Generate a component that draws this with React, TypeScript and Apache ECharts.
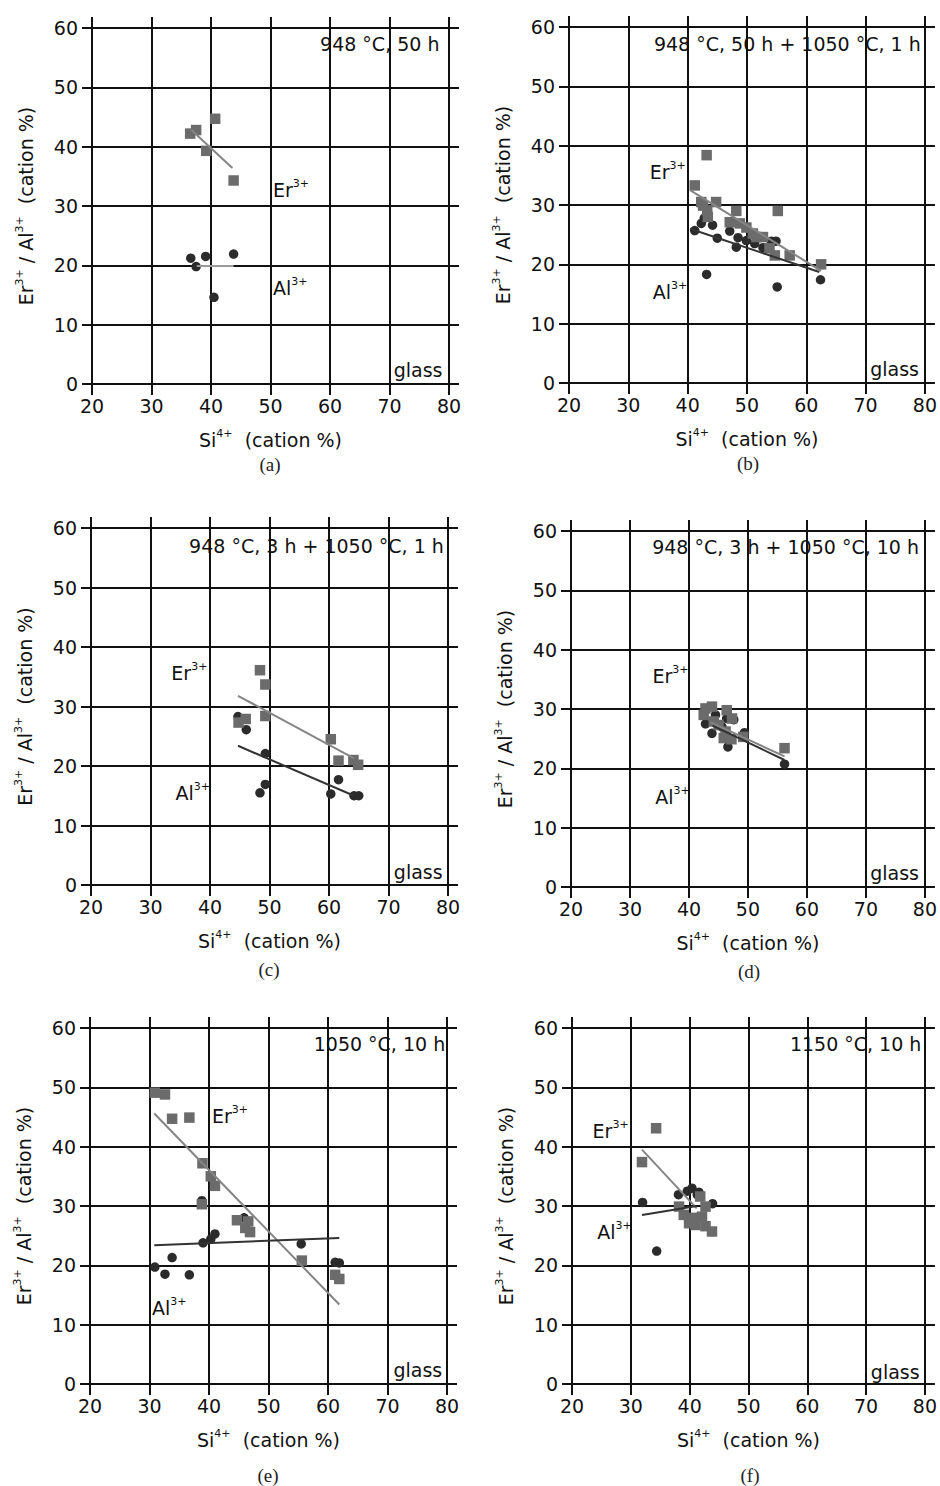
import React, { useEffect, useRef } from "react";
import * as echarts from "echarts";

// ---------- data ----------
const panelLetters = ["(a)", "(b)", "(c)", "(d)", "(e)", "(f)"];
const titles = [
  "948 °C, 50 h",
  "948 °C, 50 h + 1050 °C, 1 h",
  "948 °C, 3 h + 1050 °C, 1 h",
  "948 °C, 3 h + 1050 °C, 10 h",
  "1050 °C, 10 h",
  "1150 °C, 10 h",
];

// (a) 948 °C, 50 h
const erA = [[36.5, 42.2], [37.5, 42.8], [40.7, 44.7], [39.2, 39.3], [43.8, 34.3]];
const alA = [[36.6, 21.2], [37.5, 19.8], [39.1, 21.5], [43.8, 21.9], [40.5, 14.6]];
const erFitA = [[36.7, 42.8], [43.6, 36.4]];
const alFitA = [[37.6, 19.9], [43.8, 19.9]];

// (b) 948 °C, 50 h + 1050 °C, 1 h
const erB = [
  [43.2, 38.4], [41.2, 33.3], [42.3, 30.5], [44.8, 30.5], [43.3, 29.1], [43.4, 28.0],
  [42.6, 29.9], [48.2, 29.0], [55.2, 29.0], [47.1, 27.1], [48.8, 26.9], [49.9, 26.2],
  [51.0, 25.2], [51.6, 24.6], [52.7, 24.6], [53.8, 22.7], [54.7, 21.5], [57.2, 21.5],
  [62.5, 20.0],
];
const alB = [
  [41.2, 25.7], [42.3, 26.9], [42.8, 27.8], [44.2, 26.6], [45.0, 24.4], [47.1, 25.6],
  [48.2, 22.9], [48.5, 24.5], [49.9, 24.0], [51.3, 23.5], [52.7, 22.8], [54.1, 23.9],
  [54.9, 23.9], [43.2, 18.3], [55.1, 16.2], [62.4, 17.4],
];
const erFitB = [[40.4, 32.5], [62.5, 18.9]];
const alFitB = [[40.4, 26.0], [62.2, 18.7]];

// (c) 948 °C, 3 h + 1050 °C, 1 h
const erC = [
  [48.4, 36.1], [49.3, 33.7], [49.3, 28.4], [44.8, 27.3], [46.0, 27.9],
  [60.3, 24.5], [61.6, 20.9], [64.1, 21.0], [64.9, 20.2],
];
const alC = [
  [44.7, 28.3], [46.1, 26.1], [49.3, 22.1], [49.3, 16.9], [48.4, 15.5],
  [60.3, 15.3], [61.6, 17.7], [64.2, 15.0], [65.0, 15.0],
];
const erFitC = [[44.7, 31.8], [64.2, 21.3]];
const alFitC = [[44.7, 23.4], [64.2, 15.0]];

// (d) 948 °C, 3 h + 1050 °C, 10 h
const erD = [
  [42.8, 30.1], [43.9, 30.4], [42.5, 29.0], [46.4, 29.8], [47.3, 28.4], [45.0, 27.3],
  [44.2, 27.9], [45.9, 25.1], [47.2, 24.9], [49.2, 25.3], [56.2, 23.4], [46.2, 26.2],
];
const alD = [
  [42.8, 27.5], [43.9, 25.9], [44.5, 29.0], [46.4, 28.4], [47.6, 28.2], [46.6, 23.6],
  [49.4, 26.0], [56.2, 20.7], [45.6, 27.0],
];
const erFitD = [[43.6, 27.8], [56.2, 22.0]];
const alFitD = [[44.0, 27.2], [56.2, 21.4]];

// (e) 1050 °C, 10 h
const erE = [
  [30.9, 49.1], [32.6, 48.8], [33.8, 44.7], [36.7, 44.9], [38.9, 37.2], [40.3, 35.0],
  [41.0, 33.4], [38.8, 30.3], [44.7, 27.6], [46.1, 26.3], [46.9, 25.6], [46.6, 27.4],
  [55.6, 20.8], [61.2, 18.4], [61.9, 17.7],
];
const alE = [
  [30.9, 19.7], [32.6, 18.5], [33.8, 21.3], [36.7, 18.4], [39.0, 23.8], [38.8, 30.9],
  [40.3, 24.4], [41.0, 25.3], [45.9, 28.0], [55.5, 23.6], [61.2, 20.5], [61.9, 20.4],
];
const erFitE = [[30.8, 45.6], [61.9, 13.4]];
const alFitE = [[30.8, 23.4], [61.9, 24.6]];

// (f) 1150 °C, 10 h
const erF = [
  [34.3, 43.1], [31.9, 37.4], [38.2, 29.9], [41.8, 31.6], [39.0, 28.5], [39.9, 27.1],
  [41.0, 26.8], [42.1, 28.2], [42.7, 29.9], [43.8, 25.7], [42.7, 26.6], [40.5, 28.0],
];
const alF = [
  [32.0, 30.6], [34.4, 22.4], [38.1, 31.9], [39.6, 32.5], [40.4, 33.0], [41.3, 31.9],
  [43.9, 30.4], [41.6, 32.3],
];
const erFitF = [[31.9, 39.5], [41.2, 29.6]];
const alFitF = [[31.9, 28.5], [41.2, 30.0]];

const erSets = [erA, erB, erC, erD, erE, erF];
const alSets = [alA, alB, alC, alD, alE, alF];
const erFits = [erFitA, erFitB, erFitC, erFitD, erFitE, erFitF];
const alFits = [alFitA, alFitB, alFitC, alFitD, alFitE, alFitF];

// ---------- layout (not data) ----------
const GRIDS = [
  { left: 92, top: 28, width: 357, height: 356 },
  { left: 569, top: 27, width: 357, height: 356 },
  { left: 91, top: 528, width: 357, height: 357 },
  { left: 571, top: 531, width: 357, height: 356 },
  { left: 90, top: 1028, width: 357, height: 356 },
  { left: 572, top: 1028, width: 357, height: 356 },
];
// annotation anchors in data units: Er label, Al label, title (right edge), glass (right edge)
const ANCHORS = [
  { er: [50.4, 32.7], al: [50.4, 16.2], title: [78.4, 57.3], glass: [78.9, 2.4] },
  { er: [33.6, 35.6], al: [34.1, 15.3], title: [79.3, 57.2], glass: [79.0, 2.4] },
  { er: [33.5, 35.6], al: [34.2, 15.4], title: [79.3, 57.0], glass: [79.1, 2.2] },
  { er: [33.8, 35.6], al: [34.3, 15.2], title: [79.0, 57.3], glass: [79.0, 2.4] },
  { er: [40.5, 45.2], al: [30.4, 12.8], title: [79.7, 57.3], glass: [79.2, 2.3] },
  { er: [23.5, 42.6], al: [24.3, 25.6], title: [79.4, 57.3], glass: [79.1, 2.1] },
];
const LETTER_POS = [
  [270, 464], [748, 463], [269, 969], [749, 971], [268, 1475], [750, 1475],
];

const FONT = '"DejaVu Sans", sans-serif';
const INK = "#111111";
const RICH = {
  n: { fontSize: 19, fontFamily: FONT, color: INK, lineHeight: 24, opacity: 1 },
  s: { fontSize: 11, fontFamily: FONT, color: INK, verticalAlign: "top", opacity: 1 },
};

function buildOption() {
  const xAxis: any[] = [];
  const yAxis: any[] = [];
  const series: any[] = [];
  const lineStyle = { color: INK, width: 2 };

  GRIDS.forEach((_, i) => {
    xAxis.push({
      gridIndex: i, type: "value", min: 20, max: 80, interval: 10, position: "bottom",
      axisLine: { show: true, onZero: false, lineStyle },
      axisTick: { show: true, inside: false, length: 11, lineStyle },
      splitLine: { show: true, lineStyle },
      axisLabel: { margin: 12, color: INK, fontSize: 19, fontFamily: FONT },
      name: "{n|Si}{s|4+}{n|  (cation %)}",
      nameLocation: "middle", nameGap: 44,
      nameTextStyle: { rich: RICH },
    });
    xAxis.push({
      gridIndex: i, type: "value", min: 20, max: 80, interval: 10, position: "top",
      axisLine: { show: true, onZero: false, lineStyle },
      axisTick: { show: true, inside: false, length: 11, lineStyle },
      splitLine: { show: false }, axisLabel: { show: false },
    });
    yAxis.push({
      gridIndex: i, type: "value", min: 0, max: 60, interval: 10, position: "left",
      axisLine: { show: true, onZero: false, lineStyle },
      axisTick: { show: true, inside: false, length: 10, lineStyle },
      splitLine: { show: true, lineStyle },
      axisLabel: { margin: 14, color: INK, fontSize: 19, fontFamily: FONT },
      name: "{n|Er}{s|3+}{n| / Al}{s|3+}{n|  (cation %)}",
      nameLocation: "middle", nameGap: 54,
      nameTextStyle: { rich: RICH },
    });
    yAxis.push({
      gridIndex: i, type: "value", min: 0, max: 60, interval: 10, position: "right",
      axisLine: { show: true, onZero: false, lineStyle },
      axisTick: { show: true, inside: false, length: 10, lineStyle },
      splitLine: { show: false }, axisLabel: { show: false },
    });

    const xi = 2 * i;
    const yi = 2 * i;
    series.push({
      type: "scatter", xAxisIndex: xi, yAxisIndex: yi, data: alSets[i],
      symbol: "circle", symbolSize: 9.5, itemStyle: { color: "#2b2b2b", opacity: 1 }, z: 2,
    });
    series.push({
      type: "scatter", xAxisIndex: xi, yAxisIndex: yi, data: erSets[i],
      symbol: "rect", symbolSize: 10.5, itemStyle: { color: "#6b6b6b", opacity: 1 }, z: 3,
    });
    series.push({
      type: "line", xAxisIndex: xi, yAxisIndex: yi, data: erFits[i], symbol: "none",
      lineStyle: { color: "#858585", width: 2 }, z: 4,
    });
    series.push({
      type: "line", xAxisIndex: xi, yAxisIndex: yi, data: alFits[i], symbol: "none",
      lineStyle: { color: i === 0 ? "#9a9a9a" : "#333333", width: 2 }, z: 4,
    });
    const a = ANCHORS[i];
    const lbl = (text: string, align: string) => ({
      show: true, position: [0, 0], align, verticalAlign: "middle",
      formatter: text, rich: RICH, color: INK, opacity: 1,
    });
    series.push({
      type: "scatter", xAxisIndex: xi, yAxisIndex: yi, symbolSize: 0, silent: true, z: 6,
      itemStyle: { opacity: 1 },
      data: [
        { value: a.er, label: lbl("{n|Er}{s|3+}", "left") },
        { value: a.al, label: lbl("{n|Al}{s|3+}", "left") },
        { value: a.title, label: lbl("{n|" + titles[i] + "}", "right") },
        { value: a.glass, label: lbl("{n|glass}", "right") },
      ],
    });
  });

  const graphic = LETTER_POS.map((p, i) => ({
    type: "text", x: p[0], y: p[1],
    style: {
      text: panelLetters[i], fill: "#222", fontSize: 19,
      fontFamily: '"Liberation Serif", "Times New Roman", serif',
      align: "center", verticalAlign: "middle",
    },
  }));

  return {
    animation: false,
    backgroundColor: "#ffffff",
    grid: GRIDS.map((g) => ({ ...g, containLabel: false })),
    xAxis, yAxis, series, graphic,
  };
}

export default function App() {
  const ref = useRef<HTMLDivElement>(null);
  useEffect(() => {
    if (!ref.current) return;
    const chart = echarts.init(ref.current, undefined, { renderer: "svg" });
    chart.setOption(buildOption() as any);
    return () => chart.dispose();
  }, []);
  return (
    <div
      ref={ref}
      style={{ position: "absolute", left: 0, top: 0, width: 940, height: 1486, background: "#fff" }}
    />
  );
}
